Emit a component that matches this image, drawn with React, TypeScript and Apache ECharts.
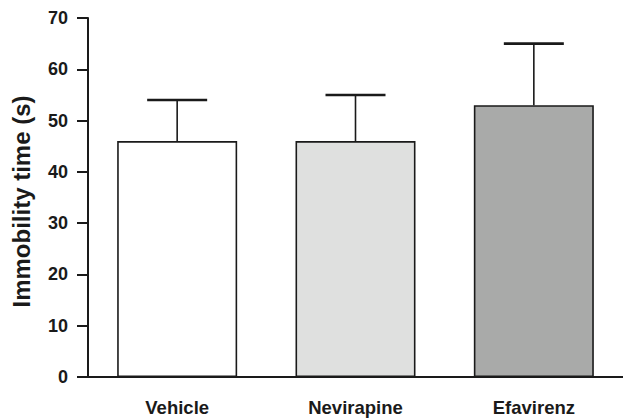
import React, { useEffect, useRef } from "react";
import * as echarts from "echarts";

const categories = ["Vehicle", "Nevirapine", "Efavirenz"];
const means = [46, 46, 53];
const upperErrors = [54, 55, 65];
const barColors = ["#ffffff", "#dfe0df", "#a9aaa9"];
const yTicks = { min: 0, max: 70, interval: 10 };

export default function App() {
  const ref = useRef<HTMLDivElement>(null);

  useEffect(() => {
    if (!ref.current) return;
    const chart = echarts.init(ref.current, null, { renderer: "svg" });
    const ink = "#1a1a1a";
    const font = "'Liberation Sans', Arial, Helvetica, sans-serif";
    chart.setOption({
      animation: false,
      backgroundColor: "#ffffff",
      grid: { left: 88, right: 0, top: 18, bottom: 41, containLabel: false },
      xAxis: {
        type: "category",
        data: categories,
        axisLine: { lineStyle: { color: ink, width: 2 } },
        axisTick: { alignWithLabel: true, length: 12, lineStyle: { color: ink, width: 2 } },
        axisLabel: {
          margin: 21,
          color: ink,
          fontSize: 18.5,
          fontWeight: "bold",
          fontFamily: font,
        },
      },
      yAxis: {
        type: "value",
        min: yTicks.min,
        max: yTicks.max,
        interval: yTicks.interval,
        name: "Immobility time (s)",
        nameLocation: "middle",
        nameGap: 55,
        nameTextStyle: {
          color: ink,
          fontSize: 24,
          fontWeight: "bold",
          fontFamily: font,
          padding: [0, 8, 0, 0],
        },
        splitLine: { show: false },
        axisLine: { show: true, lineStyle: { color: ink, width: 2 } },
        axisTick: { show: true, length: 11, lineStyle: { color: ink, width: 2 } },
        axisLabel: {
          margin: 20,
          color: ink,
          fontSize: 18,
          fontWeight: "bold",
          fontFamily: font,
        },
      },
      series: [
        {
          type: "bar",
          barWidth: 120,
          data: means.map((v, i) => ({
            value: v,
            itemStyle: { color: barColors[i], borderColor: ink, borderWidth: 1.6 },
          })),
          z: 2,
        },
        {
          type: "custom",
          z: 3,
          data: categories.map((c, i) => [i, means[i], upperErrors[i]]),
          encode: { x: 0, y: [1, 2] },
          renderItem: (params: any, api: any) => {
            const x = api.value(0);
            const top = api.coord([x, api.value(2)]);
            const bot = api.coord([x, api.value(1)]);
            const hw = 30;
            return {
              type: "group",
              children: [
                {
                  type: "line",
                  shape: { x1: top[0], y1: top[1], x2: bot[0], y2: bot[1] },
                  style: { stroke: ink, lineWidth: 1.6 },
                },
                {
                  type: "line",
                  shape: { x1: top[0] - hw, y1: top[1], x2: top[0] + hw, y2: top[1] },
                  style: { stroke: ink, lineWidth: 2.6 },
                },
              ],
            };
          },
        },
      ],
    });
    return () => chart.dispose();
  }, []);

  return (
    <div
      ref={ref}
      style={{ position: "fixed", left: 0, top: 0, width: 623, height: 418 }}
    />
  );
}
